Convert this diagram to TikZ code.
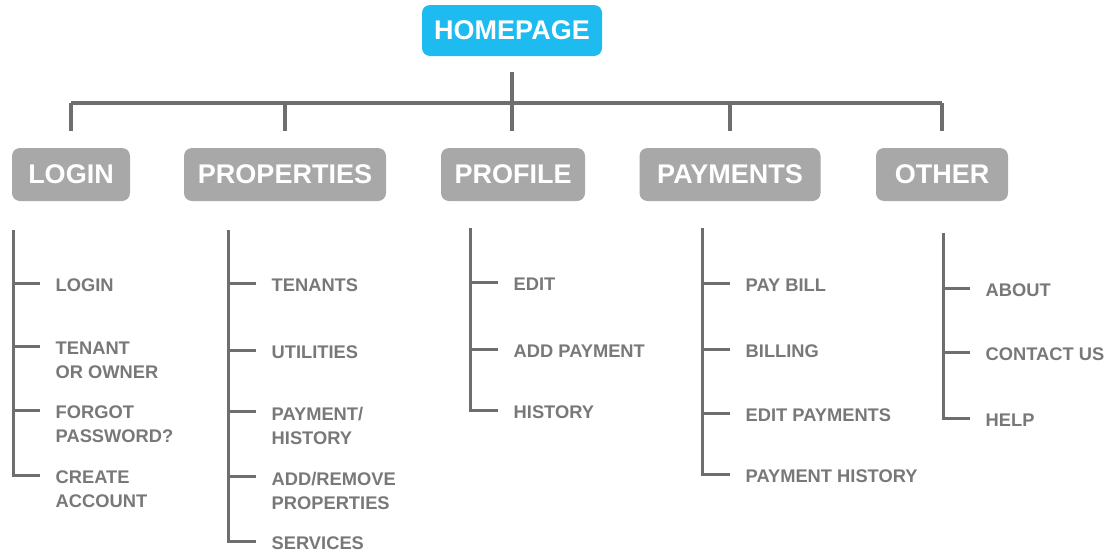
\documentclass[tikz,border=0pt]{standalone}
\usepackage{fontspec}
\setmainfont{Liberation Sans}
\usepackage{tikz}
\usetikzlibrary{positioning}

\definecolor{homeblue}{HTML}{1EBBF0}
\definecolor{boxgray}{HTML}{A8A8A8}
\definecolor{linegray}{HTML}{6E6E6E}
\definecolor{itemgray}{HTML}{787878}

\tikzset{
  home/.style={rectangle, rounded corners=8pt, fill=homeblue, text=white,
    font=\bfseries\fontsize{27}{27}\selectfont, minimum width=180pt, minimum height=51pt},
  cat/.style={rectangle, rounded corners=8pt, fill=boxgray, text=white,
    font=\bfseries\fontsize{27}{27}\selectfont, minimum height=53pt},
  item/.style={align=left, inner xsep=15.5pt, inner ysep=0pt,
    text=itemgray, font=\bfseries\fontsize{18.3}{24}\selectfont},
  link/.style={draw=linegray, line width=4pt},
  branch/.style={draw=linegray, line width=3pt}
}

\begin{document}
\begin{tikzpicture}[x=1pt, y=1pt]
        \useasboundingbox (0, 0) rectangle (1106, -552);

        \node[home](home) at (512, -30.5) {HOMEPAGE};

        \node[cat, minimum width=118pt](login) at ( 71, -174.5) {LOGIN};
        \node[cat, minimum width=202pt](props) at (285, -174.5) {PROPERTIES};
        \node[cat, minimum width=144pt](prof)  at (513, -174.5) {PROFILE};
        \node[cat, minimum width=181pt](pay)   at (730, -174.5) {PAYMENTS};
        \node[cat, minimum width=132pt](other) at (942, -174.5) {OTHER};

        % top level tree
        \coordinate (bus) at (0, -103);
        \draw[link, shorten <=16pt, shorten >=17pt] (home.south) -- (home.south |- prof.north);
        \draw[link] (login.north |- bus) -- (other.north |- bus);
        \draw[link, shorten >=17pt] (login.north |- bus) -- (login.north);
        \draw[link, shorten >=17pt] (props.north |- bus) -- (props.north);
        \draw[link, shorten >=17pt] (pay.north |- bus) -- (pay.north);
        \draw[link, shorten >=17pt] (other.north |- bus) -- (other.north);

        % login
        \coordinate (lgTop) at (13.5, -230);
        \coordinate (lg1) at (40, -283);
        \coordinate (lg2) at (40, -346);
        \coordinate (lg3) at (40, -410);
        \coordinate (lg4) at (40, -475);
        \node[item, below right=-4pt and 0pt of lg1](lg1t) {LOGIN};
        \node[item, below right=-4pt and 0pt of lg2](lg2t) {TENANT\\OR OWNER};
        \node[item, below right=-4pt and 0pt of lg3](lg3t) {FORGOT\\PASSWORD?};
        \node[item, below right=-4pt and 0pt of lg4](lg4t) {CREATE\\ACCOUNT};
        \draw[branch] (lgTop) |- (lg4)
              (lgTop |- lg1) -- (lg1)
              (lgTop |- lg2) -- (lg2)
              (lgTop |- lg3) -- (lg3);

        % properties
        \coordinate (prTop) at (228, -230);
        \coordinate (pr1) at (256, -283);
        \coordinate (pr2) at (256, -350);
        \coordinate (pr3) at (256, -411);
        \coordinate (pr4) at (256, -476);
        \coordinate (pr5) at (256, -541);
        \node[item, below right=-4pt and 0pt of pr1](pr1t) {TENANTS};
        \node[item, below right=-4pt and 0pt of pr2](pr2t) {UTILITIES};
        \node[item, below right=-4pt and 0pt of pr3](pr3t) {PAYMENT/\\HISTORY};
        \node[item, below right=-4pt and 0pt of pr4](pr4t) {ADD/REMOVE\\PROPERTIES};
        \node[item, below right=-4pt and 0pt of pr5](pr5t) {SERVICES};
        \draw[branch] (prTop) |- (pr5)
              (prTop |- pr1) -- (pr1)
              (prTop |- pr2) -- (pr2)
              (prTop |- pr3) -- (pr3)
              (prTop |- pr4) -- (pr4);

        % profile
        \coordinate (pfTop) at (470, -228);
        \coordinate (pf1) at (498, -282);
        \coordinate (pf2) at (498, -349);
        \coordinate (pf3) at (498, -410);
        \node[item, below right=-4pt and 0pt of pf1](pf1t) {EDIT};
        \node[item, below right=-4pt and 0pt of pf2](pf2t) {ADD PAYMENT};
        \node[item, below right=-4pt and 0pt of pf3](pf3t) {HISTORY};
        \draw[branch] (pfTop) |- (pf3)
              (pfTop |- pf1) -- (pf1)
              (pfTop |- pf2) -- (pf2);

        % payments
        \coordinate (pyTop) at (702.5, -228);
        \coordinate (py1) at (730, -283);
        \coordinate (py2) at (730, -349);
        \coordinate (py3) at (730, -413);
        \coordinate (py4) at (730, -474);
        \node[item, below right=-4pt and 0pt of py1](py1t) {PAY BILL};
        \node[item, below right=-4pt and 0pt of py2](py2t) {BILLING};
        \node[item, below right=-4pt and 0pt of py3](py3t) {EDIT PAYMENTS};
        \node[item, below right=-4pt and 0pt of py4](py4t) {PAYMENT HISTORY};
        \draw[branch] (pyTop) |- (py4)
              (pyTop |- py1) -- (py1)
              (pyTop |- py2) -- (py2)
              (pyTop |- py3) -- (py3);

        % other
        \coordinate (otTop) at (943, -233);
        \coordinate (ot1) at (970, -288);
        \coordinate (ot2) at (970, -352);
        \coordinate (ot3) at (970, -418);
        \node[item, below right=-4pt and 0pt of ot1](ot1t) {ABOUT};
        \node[item, below right=-4pt and 0pt of ot2](ot2t) {CONTACT US};
        \node[item, below right=-4pt and 0pt of ot3](ot3t) {HELP};
        \draw[branch] (otTop) |- (ot3)
              (otTop |- ot1) -- (ot1)
              (otTop |- ot2) -- (ot2);
      \end{tikzpicture}
\end{document}
